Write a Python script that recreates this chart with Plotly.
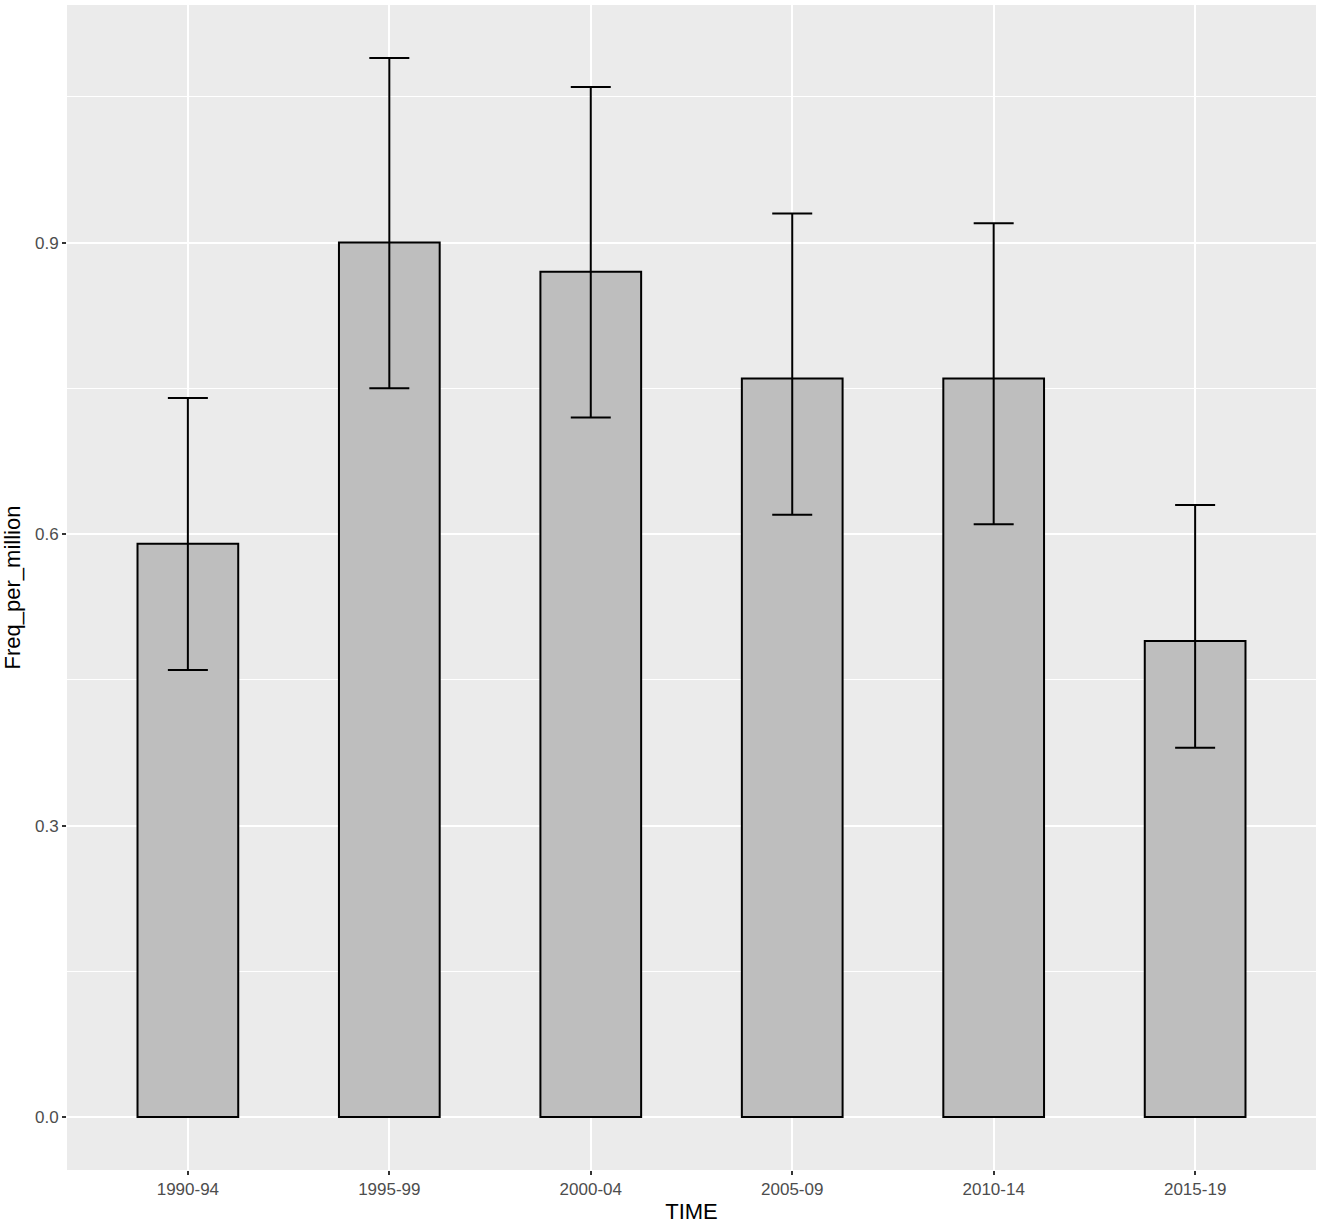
import plotly.graph_objects as go

categories = ["1990-94", "1995-99", "2000-04", "2005-09", "2010-14", "2015-19"]
freq = [0.59, 0.90, 0.87, 0.76, 0.76, 0.49]
upper = [0.74, 1.09, 1.06, 0.93, 0.92, 0.63]
lower = [0.46, 0.75, 0.72, 0.62, 0.61, 0.38]
y_ticks = [0.0, 0.3, 0.6, 0.9]
y_tick_labels = ["0.0", "0.3", "0.6", "0.9"]
minor_ticks = [0.15, 0.45, 0.75, 1.05]

plus = [u - f for u, f in zip(upper, freq)]
minus = [f - l for f, l in zip(freq, lower)]

fig = go.Figure()
fig.add_trace(go.Bar(
    x=list(range(len(categories))), y=freq,
    width=0.5,
    marker=dict(color="#BEBEBE", line=dict(color="black", width=2)),
    error_y=dict(type="data", symmetric=False, array=plus, arrayminus=minus,
                 color="black", thickness=2, width=20),
    showlegend=False,
))

ymax = max(upper)
pad = ymax * 0.05
fig.update_layout(
    width=1323, height=1225,
    margin=dict(l=67, r=7, t=5, b=55),
    paper_bgcolor="white", plot_bgcolor="#EBEBEB",
    font=dict(family="Liberation Sans, Arial, sans-serif"),
    xaxis=dict(
        range=[-0.6, len(categories) - 0.4],
        tickmode="array", tickvals=list(range(len(categories))), ticktext=categories,
        showgrid=True, gridcolor="white", gridwidth=2,
        zeroline=False, ticks="outside", ticklen=4, tickwidth=1.5, tickcolor="#333333",
        tickfont=dict(size=17, color="#4D4D4D"),
        title=dict(text="TIME", font=dict(size=22, color="black"), standoff=5),
        showline=False,
    ),
    yaxis=dict(
        range=[-pad, ymax + pad],
        tickmode="array", tickvals=y_ticks, ticktext=y_tick_labels,
        showgrid=True, gridcolor="white", gridwidth=2,
        zeroline=False, ticks="outside", ticklen=4, tickwidth=1.5, tickcolor="#333333",
        tickfont=dict(size=17, color="#4D4D4D"),
        title=dict(text="Freq_per_million", font=dict(size=22, color="black"), standoff=8),
        minor=dict(tickmode="array", tickvals=minor_ticks, showgrid=True,
                   gridcolor="white", gridwidth=1, ticks=""),
        showline=False,
    ),
)

fig.write_html("out.html",
               config={"displayModeBar": False},
               post_script="document.body.style.margin='0';document.body.style.overflow='hidden';")
